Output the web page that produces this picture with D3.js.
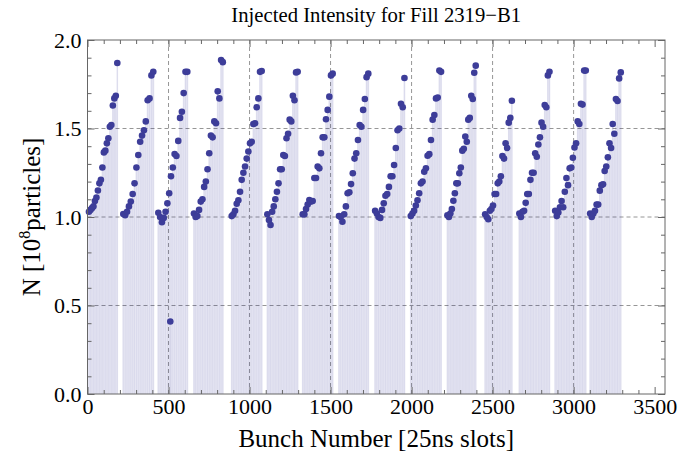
<!DOCTYPE html>
<html>
<head>
<meta charset="utf-8">
<script src="https://cdn.jsdelivr.net/npm/d3@7"></script>
<style>
  body { margin: 0; background: #fff; }
  svg text { font-family: "Liberation Serif", "Times New Roman", serif; fill: #000; }
</style>
</head>
<body>
<svg id="chart" width="685" height="459"></svg>
<script>
// first and last filled slot of each injected train
const trainFirst = [9, 221, 437, 657, 890, 1110, 1328, 1552, 1775, 1995, 2221, 2454, 2665, 2886, 3102];
const trainLast = [184, 406, 616, 835, 1075, 1297, 1513, 1733, 1956, 2182, 2396, 2619, 2851, 3075, 3291];

// bunch intensities [1e8 particles], one array per train
const train01 = [1.03, 1.04, 1.05, 1.06, 1.09, 1.11, 1.15, 1.19, 1.21, 1.28, 1.365, 1.375, 1.416, 1.445, 1.51, 1.52, 1.63, 1.67, 1.685, 1.87];
const train02 = [1.017, 1.01, 1.03, 1.06, 1.087, 1.13, 1.19, 1.28, 1.35, 1.425, 1.46, 1.49, 1.54, 1.66, 1.67, 1.80, 1.82];
const train03 = [1.024, 1.00, 0.97, 0.995, 1.03, 1.077, 1.134, 1.23, 1.28, 1.356, 1.345, 1.43, 1.56, 1.595, 1.70, 1.82, 1.82];
const train04 = [1.02, 1.00, 1.005, 1.04, 1.087, 1.10, 1.17, 1.20, 1.27, 1.36, 1.46, 1.45, 1.54, 1.53, 1.71, 1.67, 1.887, 1.875];
const train05 = [1.005, 1.015, 1.035, 1.075, 1.095, 1.143, 1.21, 1.25, 1.285, 1.33, 1.37, 1.416, 1.425, 1.525, 1.53, 1.62, 1.67, 1.82, 1.825];
const train06 = [1.015, 0.983, 0.955, 1.03, 1.06, 1.10, 1.143, 1.19, 1.27, 1.27, 1.35, 1.345, 1.445, 1.47, 1.55, 1.54, 1.685, 1.66, 1.817, 1.82];
const train07 = [1.015, 1.015, 1.045, 1.07, 1.096, 1.087, 1.09, 1.22, 1.22, 1.285, 1.275, 1.36, 1.45, 1.45, 1.552, 1.605, 1.68, 1.80, 1.81];
const train08 = [1.005, 1.00, 0.973, 1.015, 1.06, 1.134, 1.14, 1.186, 1.247, 1.33, 1.36, 1.435, 1.52, 1.51, 1.605, 1.667, 1.79, 1.81];
const train09 = [1.035, 1.02, 1.00, 0.995, 1.04, 1.077, 1.12, 1.13, 1.17, 1.23, 1.23, 1.294, 1.39, 1.49, 1.50, 1.64, 1.62, 1.785];
const train10 = [1.005, 1.02, 1.035, 1.065, 1.095, 1.134, 1.19, 1.20, 1.256, 1.275, 1.346, 1.355, 1.435, 1.55, 1.576, 1.67, 1.675, 1.827, 1.82];
const train11 = [1.01, 1.00, 1.02, 1.045, 1.092, 1.134, 1.19, 1.19, 1.247, 1.28, 1.375, 1.385, 1.455, 1.425, 1.55, 1.56, 1.685, 1.667, 1.815, 1.855];
const train12 = [1.015, 1.00, 0.987, 1.035, 1.045, 1.065, 1.13, 1.13, 1.19, 1.20, 1.23, 1.345, 1.33, 1.416, 1.39, 1.533, 1.56, 1.657];
const train13 = [1.02, 1.00, 1.03, 1.035, 1.08, 1.13, 1.13, 1.21, 1.25, 1.25, 1.36, 1.34, 1.41, 1.45, 1.533, 1.51, 1.633, 1.62, 1.80, 1.82];
const train14 = [1.035, 1.005, 1.025, 1.055, 1.09, 1.055, 1.143, 1.22, 1.18, 1.275, 1.28, 1.335, 1.393, 1.416, 1.54, 1.525, 1.64, 1.635, 1.827, 1.827];
const train15 = [1.02, 1.00, 1.02, 1.035, 1.07, 1.07, 1.149, 1.18, 1.185, 1.26, 1.285, 1.337, 1.416, 1.39, 1.525, 1.47, 1.667, 1.655, 1.783, 1.817];
const trains = [train01, train02, train03, train04, train05, train06, train07, train08,
                train09, train10, train11, train12, train13, train14, train15];

// lone low bunch in the third train
const outlierBunch = [511];
const outlierN = [0.41];

const xTicks = [0, 500, 1000, 1500, 2000, 2500, 3000, 3500];
const yTicks = [0, 0.5, 1.0, 1.5, 2.0];
const xGrid = [500, 1000, 1500, 2000, 2500, 3000];
const yGrid = [0.5, 1.0, 1.5];

const svg = d3.select('#chart');
const plotColor = '#3d3d99';
const plotLeft = 87.5, plotRight = 665, plotTop = 40, plotBottom = 394;

const x = d3.scaleLinear().domain([0, 3564]).range([plotLeft, plotRight]);
const y = d3.scaleLinear().domain([0, 2]).range([plotBottom, plotTop]);

// bunches sit at even slot steps between a train's first and last slot
const points = [];
trains.forEach((vals, t) => {
  const step = (trainLast[t] - trainFirst[t]) / (vals.length - 1);
  vals.forEach((v, i) => points.push({ bunch: trainFirst[t] + i * step, n: v, w: step }));
});
outlierBunch.forEach((b, i) => points.push({ bunch: b, n: outlierN[i], w: 0 }));

// grid
svg.append('g').selectAll('line')
  .data(xGrid).enter().append('line')
  .attr('x1', d => x(d)).attr('x2', d => x(d))
  .attr('y1', plotTop).attr('y2', plotBottom)
  .attr('stroke', '#8a8a8a').attr('stroke-width', 0.9)
  .attr('stroke-dasharray', '4,3');
svg.append('g').selectAll('line')
  .data(yGrid).enter().append('line')
  .attr('x1', plotLeft).attr('x2', plotRight)
  .attr('y1', d => y(d)).attr('y2', d => y(d))
  .attr('stroke', '#8a8a8a').attr('stroke-width', 0.9)
  .attr('stroke-dasharray', '4,3');

// filling to axis
const stems = svg.append('g');
stems.selectAll('rect')
  .data(points.filter(p => p.w > 0)).enter().append('rect')
  .attr('x', d => x(d.bunch - d.w / 2))
  .attr('width', d => x(d.w) - x(0))
  .attr('y', d => y(d.n))
  .attr('height', d => y(0) - y(d.n))
  .attr('fill', plotColor).attr('fill-opacity', 0.12);
stems.selectAll('line')
  .data(points).enter().append('line')
  .attr('x1', d => x(d.bunch)).attr('x2', d => x(d.bunch))
  .attr('y1', d => y(d.n)).attr('y2', y(0))
  .attr('stroke', plotColor).attr('stroke-opacity', 0.1).attr('stroke-width', 0.7);

// points
svg.append('g').selectAll('circle')
  .data(points).enter().append('circle')
  .attr('cx', d => x(d.bunch))
  .attr('cy', d => y(d.n))
  .attr('r', 3.3)
  .attr('fill', plotColor);

// frame and ticks
const minorX = d3.range(0, 3564, 100).filter(v => v % 500 !== 0);
const minorY = d3.range(0, 2.001, 0.1).map(v => +v.toFixed(1)).filter(v => Math.round(v * 10) % 5 !== 0);

function styleAxis(g) {
  g.select('.domain').remove();
  g.selectAll('line').attr('stroke', '#666');
  g.selectAll('text').style('font-size', '22px').style('font-family', '"Liberation Serif", serif').attr('fill', '#000');
}

svg.append('g').attr('transform', `translate(0,${plotBottom})`)
  .call(d3.axisBottom(x).tickValues(xTicks).tickSizeInner(-7).tickSizeOuter(0).tickPadding(4).tickFormat(d3.format('d')))
  .call(styleAxis);
svg.append('g').attr('transform', `translate(0,${plotBottom})`)
  .call(d3.axisBottom(x).tickValues(minorX).tickSize(-4).tickFormat(''))
  .call(styleAxis);
svg.append('g').attr('transform', `translate(0,${plotTop})`)
  .call(d3.axisTop(x).tickValues(xTicks).tickSize(-7).tickFormat(''))
  .call(styleAxis);
svg.append('g').attr('transform', `translate(0,${plotTop})`)
  .call(d3.axisTop(x).tickValues(minorX).tickSize(-4).tickFormat(''))
  .call(styleAxis);

svg.append('g').attr('transform', `translate(${plotLeft},0)`)
  .call(d3.axisLeft(y).tickValues(yTicks).tickSizeInner(-7).tickSizeOuter(0).tickPadding(6).tickFormat(d3.format('.1f')))
  .call(styleAxis);
svg.append('g').attr('transform', `translate(${plotLeft},0)`)
  .call(d3.axisLeft(y).tickValues(minorY).tickSize(-4).tickFormat(''))
  .call(styleAxis);
svg.append('g').attr('transform', `translate(${plotRight},0)`)
  .call(d3.axisRight(y).tickValues(yTicks).tickSize(-7).tickFormat(''))
  .call(styleAxis);
svg.append('g').attr('transform', `translate(${plotRight},0)`)
  .call(d3.axisRight(y).tickValues(minorY).tickSize(-4).tickFormat(''))
  .call(styleAxis);

svg.append('rect')
  .attr('x', plotLeft).attr('y', plotTop)
  .attr('width', plotRight - plotLeft).attr('height', plotBottom - plotTop)
  .attr('fill', 'none').attr('stroke', '#666').attr('stroke-width', 1);

// titles
svg.append('text')
  .attr('x', (plotLeft + plotRight) / 2).attr('y', 22)
  .attr('text-anchor', 'middle')
  .style('font-size', '20.7px')
  .text('Injected Intensity for Fill 2319\u2212B1');

svg.append('text')
  .attr('x', (plotLeft + plotRight) / 2).attr('y', 447)
  .attr('text-anchor', 'middle')
  .style('font-size', '25px')
  .text('Bunch Number [25ns slots]');

const yLabel = svg.append('text')
  .attr('transform', `translate(40,${(plotTop + plotBottom) / 2}) rotate(-90)`)
  .attr('text-anchor', 'middle')
  .style('font-size', '25px');
yLabel.append('tspan').text('N [10');
yLabel.append('tspan').attr('dy', -10).style('font-size', '16px').text('8');
yLabel.append('tspan').attr('dy', 10).text('particles]');
</script>
</body>
</html>
